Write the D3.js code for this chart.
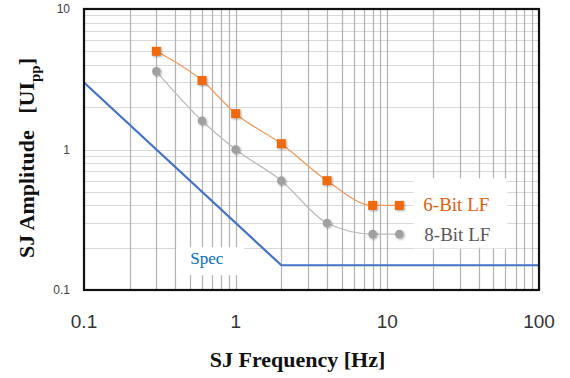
<!DOCTYPE html>
<html>
<head>
<meta charset="utf-8">
<script src="https://cdn.jsdelivr.net/npm/d3@7"></script>
<style>
  body { margin: 0; background: #fff; }
  svg { display: block; }
</style>
</head>
<body>
<div id="chart"></div>
<script>
// SJ tolerance data
var freq = [0.3, 0.6, 1, 2, 4, 8, 12]
var bit6 = [5.0, 3.1, 1.8, 1.1, 0.6, 0.4, 0.4]
var bit8 = [3.6, 1.6, 1.0, 0.6, 0.3, 0.25, 0.25]
var specFreq = [0.1, 2, 100]
var specAmp = [3, 0.15, 0.15]
var xTicks = [0.1, 1, 10, 100]
var yTicks = [0.1, 1, 10]
var seriesNames = ['6-Bit LF', '8-Bit LF', 'Spec']

var width = 570
var height = 378
var margin = { top: 9, right: 31, bottom: 88, left: 84 }
var w = width - margin.left - margin.right
var h = height - margin.top - margin.bottom

var colors = {
  orange: '#f0690f',
  orangeLine: '#f29a5e',
  gray: '#a0a0a0',
  grayLine: '#bdbdbd',
  blue: '#4472c4'
}

var svg = d3.select('#chart').append('svg')
  .attr('width', width)
  .attr('height', height)

var defs = svg.append('defs')
var shadow = defs.append('filter').attr('id', 'shadow')
  .attr('x', '-50%').attr('y', '-50%').attr('width', '200%').attr('height', '200%')
shadow.append('feDropShadow')
  .attr('dx', 1).attr('dy', 1).attr('stdDeviation', 1)
  .attr('flood-color', '#000').attr('flood-opacity', 0.35)

var g = svg.append('g').attr('transform', 'translate(' + margin.left + ',' + margin.top + ')')

var x = d3.scaleLog().domain([0.1, 100]).range([0, w])
var y = d3.scaleLog().domain([0.1, 10]).range([h, 0])

// grid
g.append('g').selectAll('line')
  .data(y.ticks())
  .enter().append('line')
  .attr('x1', 0).attr('x2', w)
  .attr('y1', function (d) { return Math.round(y(d)) + 0.5 })
  .attr('y2', function (d) { return Math.round(y(d)) + 0.5 })
  .attr('stroke', '#d9d9d9')
  .attr('stroke-width', 1.2)

g.append('g').selectAll('line')
  .data(x.ticks())
  .enter().append('line')
  .attr('y1', 0).attr('y2', h)
  .attr('x1', function (d) { return Math.round(x(d)) + 0.5 })
  .attr('x2', function (d) { return Math.round(x(d)) + 0.5 })
  .attr('stroke', '#b2b2b2')
  .attr('stroke-width', 1.2)

// spec line
var spec = specFreq.map(function (f, i) { return [f, specAmp[i]] })
g.append('path')
  .datum(spec)
  .attr('fill', 'none')
  .attr('stroke', colors.blue)
  .attr('stroke-width', 2.2)
  .attr('d', d3.line().x(function (d) { return x(d[0]) }).y(function (d) { return y(d[1]) }))

// label boxes
g.append('rect')
  .attr('x', x(0.4) + 1).attr('y', y(specAmp[2]) - 18)
  .attr('width', 68).attr('height', 28)
  .attr('fill', '#fff')
g.append('text')
  .attr('x', x(0.4) + 15)
  .attr('y', y(specAmp[2]) - 1)
  .attr('font-family', 'Liberation Serif, Times New Roman, serif')
  .attr('font-size', 17)
  .attr('fill', '#0070c0')
  .text(seriesNames[2])

var last = freq.length - 1
g.append('rect')
  .attr('x', x(freq[last]) + 14).attr('y', y(bit6[last]) - 27)
  .attr('width', 94).attr('height', 70)
  .attr('fill', '#fff')

var line = d3.line()
  .x(function (d) { return x(d[0]) })
  .y(function (d) { return y(d[1]) })
  .curve(d3.curveMonotoneX)

var s8 = freq.map(function (f, i) { return [f, bit8[i]] })
var s6 = freq.map(function (f, i) { return [f, bit6[i]] })

g.append('path').datum(s8)
  .attr('fill', 'none').attr('stroke', colors.grayLine).attr('stroke-width', 1.3)
  .attr('d', line)
g.append('path').datum(s6)
  .attr('fill', 'none').attr('stroke', colors.orangeLine).attr('stroke-width', 1.3)
  .attr('d', line)

g.append('g').selectAll('circle')
  .data(s8)
  .enter().append('circle')
  .attr('cx', function (d) { return x(d[0]) })
  .attr('cy', function (d) { return y(d[1]) })
  .attr('r', 4.3)
  .attr('fill', colors.gray)
  .attr('filter', 'url(#shadow)')

g.append('g').selectAll('rect')
  .data(s6)
  .enter().append('rect')
  .attr('x', function (d) { return x(d[0]) - 4.5 })
  .attr('y', function (d) { return y(d[1]) - 4.5 })
  .attr('width', 9).attr('height', 9)
  .attr('fill', colors.orange)
  .attr('filter', 'url(#shadow)')

// series labels next to last points
g.append('text')
  .attr('x', x(freq[last]) + 24)
  .attr('y', y(bit6[last]) + 6)
  .attr('font-family', 'Liberation Serif, Times New Roman, serif')
  .attr('font-size', 19)
  .attr('fill', '#e0620d')
  .text(seriesNames[0])
g.append('text')
  .attr('x', x(freq[last]) + 25)
  .attr('y', y(bit8[last]) + 7)
  .attr('font-family', 'Liberation Serif, Times New Roman, serif')
  .attr('font-size', 19)
  .attr('fill', '#595959')
  .text(seriesNames[1])

// frame
g.append('rect')
  .attr('x', 0).attr('y', 0).attr('width', w).attr('height', h)
  .attr('fill', 'none')
  .attr('stroke', '#111')
  .attr('stroke-width', 2.2)

// tick labels
g.append('g').selectAll('text')
  .data(xTicks)
  .enter().append('text')
  .attr('x', function (d) { return x(d) })
  .attr('y', h + 38)
  .attr('text-anchor', 'middle')
  .attr('font-family', 'Liberation Sans, Arial, sans-serif')
  .attr('font-size', 19)
  .attr('fill', '#333')
  .text(function (d) { return d3.format('~g')(d) })

g.append('g').selectAll('text')
  .data(yTicks)
  .enter().append('text')
  .attr('x', -14)
  .attr('y', function (d) { return y(d) + 4 })
  .attr('text-anchor', 'end')
  .attr('font-family', 'Liberation Sans, Arial, sans-serif')
  .attr('font-size', 12)
  .attr('fill', '#404040')
  .text(function (d) { return d3.format('~g')(d) })

// axis titles
svg.append('text')
  .attr('x', margin.left + w / 2 - 14)
  .attr('y', 367)
  .attr('text-anchor', 'middle')
  .attr('font-family', 'Liberation Serif, Times New Roman, serif')
  .attr('font-weight', 'bold')
  .attr('font-size', 22)
  .attr('fill', '#111')
  .text('SJ Frequency [Hz]')

var yt = svg.append('text')
  .attr('transform', 'translate(34,158) rotate(-90)')
  .attr('text-anchor', 'middle')
  .attr('font-family', 'Liberation Serif, Times New Roman, serif')
  .attr('font-weight', 'bold')
  .attr('font-size', 22)
  .attr('fill', '#111')
yt.append('tspan').text('SJ Amplitude\u00a0\u00a0 [UI')
yt.append('tspan').attr('font-size', 15).attr('dy', 6).text('pp')
yt.append('tspan').attr('dy', -6).text(']')
</script>
</body>
</html>
